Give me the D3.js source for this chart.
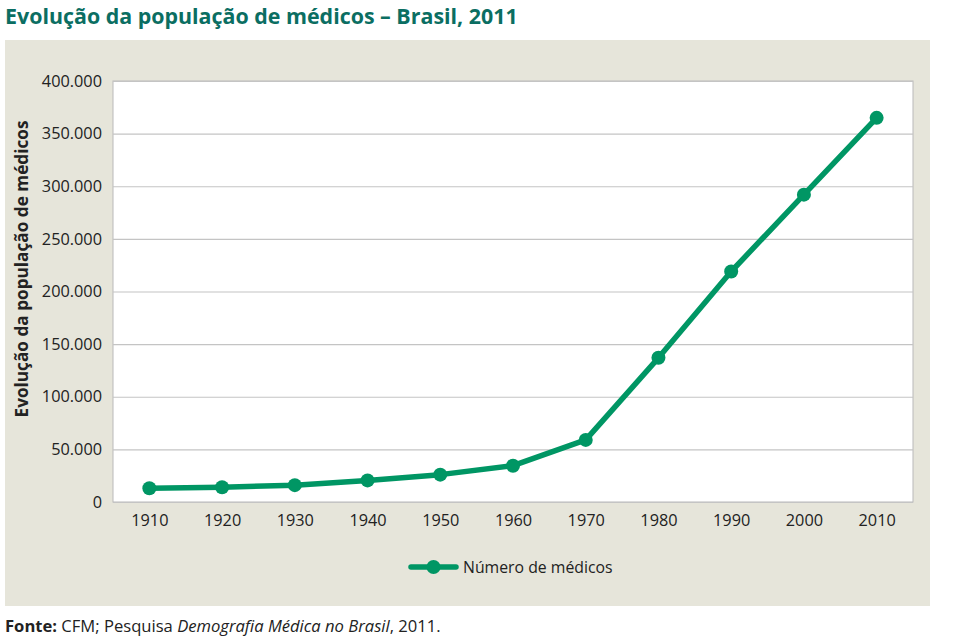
<!DOCTYPE html>
<html><head><meta charset="utf-8">
<script src="https://cdn.jsdelivr.net/npm/d3@7"></script>
<style>body{margin:0;background:#fff;} svg{display:block;font-family:"Open Sans","Noto Sans",sans-serif;}</style>
</head><body>
<svg id="c" width="972" height="641"></svg>
<script>
const years = ["1910","1920","1930","1940","1950","1960","1970","1980","1990","2000","2010"];
const medicos = [13000,14000,16000,20500,26000,34500,59000,137000,219000,292000,365000];
const yTicks = [0,50000,100000,150000,200000,250000,300000,350000,400000];
const seriesName = "Número de médicos";
const title = "Evolução da população de médicos – Brasil, 2011";
const yTitle = "Evolução da população de médicos";

const svg = d3.select("#c");
const green = "#009664";
svg.append("rect").attr("x",5).attr("y",40).attr("width",925).attr("height",566).attr("fill","#e6e5da");
svg.append("text").attr("x",5).attr("y",24).attr("fill","#0b6e62").attr("font-size",21.4).attr("font-weight","bold").text(title);

const m = {l:113, r:913, t:81, b:502};
const x = d3.scalePoint().domain(years).range([m.l,m.r]).padding(0.5);
const y = d3.scaleLinear().domain([0,400000]).range([m.b,m.t]);

svg.append("rect").attr("x",m.l).attr("y",m.t).attr("width",m.r-m.l).attr("height",m.b-m.t).attr("fill","#fff").attr("stroke","#b9b9b9").attr("stroke-width",1);

const fmt = d => d===0 ? "0" : d3.format(",")(d).replace(/,/g,".");
const ya = svg.append("g").attr("transform",`translate(${m.l},0)`)
  .call(d3.axisLeft(y).tickValues(yTicks).tickSize(-(m.r-m.l)).tickFormat(fmt).tickPadding(11));
ya.select(".domain").remove();
ya.selectAll(".tick line").attr("stroke","#c4c4c4").attr("stroke-width",1.2);
ya.selectAll(".tick text").attr("font-size",16.3).attr("fill","#222").attr("font-family","Open Sans, sans-serif");

const xa = svg.append("g").attr("transform",`translate(0,${m.b})`)
  .call(d3.axisBottom(x).tickSize(0).tickPadding(12));
xa.select(".domain").remove();
xa.selectAll(".tick text").attr("font-size",16.3).attr("fill","#222").attr("font-family","Open Sans, sans-serif");

svg.append("text").attr("transform","translate(28,269) rotate(-90)").attr("text-anchor","middle")
  .attr("font-size",17.2).attr("font-weight","bold").attr("fill","#222").text(yTitle);

const line = d3.line().x((d,i)=>x(years[i])).y(d=>y(d));
svg.append("path").datum(medicos).attr("d",line).attr("fill","none").attr("stroke",green).attr("stroke-width",5.5).attr("stroke-linejoin","round");
svg.selectAll("circle.pt").data(medicos).enter().append("circle").attr("class","pt")
  .attr("cx",(d,i)=>x(years[i])).attr("cy",d=>y(d)).attr("r",7).attr("fill",green);

const lg = svg.append("g").attr("transform","translate(411,567)");
lg.append("line").attr("x1",0).attr("x2",45).attr("y1",0).attr("y2",0).attr("stroke",green).attr("stroke-width",5.5).attr("stroke-linecap","round");
lg.append("circle").attr("cx",22.5).attr("cy",0).attr("r",7).attr("fill",green);
lg.append("text").attr("x",52).attr("y",6).attr("font-size",15.8).attr("fill","#222").text(seriesName);

const ft = svg.append("text").attr("x",5).attr("y",632).attr("font-size",16.6).attr("fill","#222");
ft.append("tspan").attr("font-weight","bold").text("Fonte:");
ft.append("tspan").text(" CFM; Pesquisa ");
ft.append("tspan").attr("font-style","italic").text("Demografia Médica no Brasil");
ft.append("tspan").text(", 2011.");
</script>
</body></html>
